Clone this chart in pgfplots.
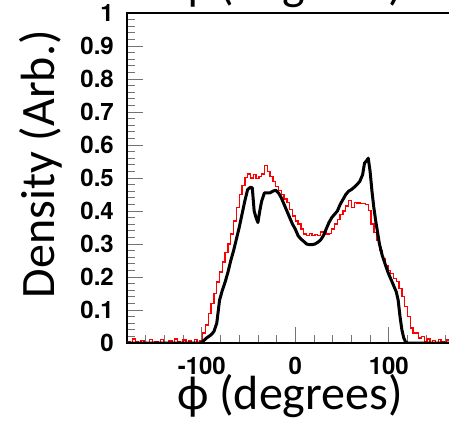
\documentclass[border=0pt]{standalone}
\usepackage{pgfplots}
\pgfplotsset{compat=1.18}
\usepackage{fontspec}
\setmainfont{TeX Gyre Heros}
\newfontfamily\calibri{Carlito}

\pgfplotstableread{
x y
-180 0.005
-177 0.000
-174 0.012
-171 0.003
-168 0.000
-165 0.008
-162 0.002
-159 0.000
-156 0.011
-153 0.000
-150 0.004
-147 0.000
-144 0.010
-141 0.002
-138 0.000
-135 0.006
-132 0.000
-129 0.012
-126 0.003
-123 0.000
-120 0.009
-117 0.002
-114 0.006
-111 0.000
-108 0.010
-105 0.002
-102 0.008
-99 0.030
-96 0.055
-93 0.090
-90 0.120
-87 0.150
-84 0.185
-81 0.215
-78 0.245
-75 0.275
-72 0.300
-69 0.330
-66 0.370
-63 0.410
-60 0.450
-57 0.478
-54 0.502
-51 0.512
-48 0.500
-45 0.510
-42 0.498
-39 0.505
-36 0.512
-33 0.538
-30 0.520
-27 0.505
-24 0.490
-21 0.475
-18 0.462
-15 0.450
-12 0.436
-9 0.425
-6 0.405
-3 0.385
0 0.370
3 0.360
6 0.345
9 0.330
12 0.325
15 0.332
18 0.325
21 0.328
24 0.325
27 0.336
30 0.338
33 0.330
36 0.332
39 0.346
42 0.360
45 0.375
48 0.390
51 0.400
54 0.415
57 0.432
60 0.410
63 0.426
66 0.424
69 0.423
72 0.422
75 0.420
78 0.402
81 0.360
84 0.335
87 0.310
90 0.280
93 0.255
96 0.235
99 0.220
102 0.210
105 0.196
108 0.186
111 0.166
114 0.140
117 0.110
120 0.080
123 0.045
126 0.030
129 0.030
132 0.015
135 0.020
138 0.005
141 0.012
144 0.002
147 0.008
150 0.000
153 0.010
156 0.003
159 0.000
162 0.009
165 0.002
168 0.011
171 0.000
174 0.006
177 0.010
180 0.010
}\redtable

\pgfplotstableread{
x y
-180 0
-101 0
-100 0.002
-95 0.015
-90 0.025
-87 0.035
-84 0.060
-81 0.130
-78 0.160
-75 0.185
-72 0.215
-69 0.250
-66 0.280
-63 0.315
-60 0.350
-57 0.390
-54 0.430
-51 0.465
-48 0.472
-46 0.470
-44 0.400
-42 0.380
-40 0.365
-38 0.400
-36 0.430
-33 0.455
-30 0.455
-27 0.455
-24 0.460
-21 0.463
-18 0.455
-15 0.440
-12 0.420
-9 0.400
-6 0.380
-3 0.360
0 0.345
3 0.325
6 0.315
9 0.308
12 0.300
15 0.298
18 0.298
21 0.300
24 0.305
27 0.312
30 0.325
33 0.345
36 0.365
39 0.380
42 0.390
45 0.400
48 0.420
51 0.435
54 0.450
57 0.460
60 0.465
63 0.472
66 0.480
69 0.490
72 0.510
74 0.545
77 0.555
78 0.560
80 0.520
82 0.460
84 0.410
86 0.370
88 0.335
90 0.300
93 0.265
96 0.240
99 0.215
102 0.195
105 0.175
108 0.155
110 0.130
112 0.080
114 0.040
116 0.015
118 0.003
120 0
180 0
}\blacktable

\begin{document}
\begin{tikzpicture}[x=1pt,y=1pt]
\useasboundingbox (0,0) rectangle (449,425);
\clip (0,0) rectangle (449,425);
\begin{axis}[
  at={(127pt,82pt)}, anchor=south west,
  scale only axis, width=336.6pt, height=330pt,
  xmin=-180, xmax=180, ymin=0, ymax=1,
  axis line style={line width=1.5pt, black},
  xtick={-100,0,100},
  ytick={0,0.1,0.2,0.3,0.4,0.5,0.6,0.7,0.8,0.9,1},
  yticklabels={0,0.1,0.2,0.3,0.4,0.5,0.6,0.7,0.8,0.9,1},
  minor xtick={-180,-160,...,180},
  minor ytick={0,0.02,...,1},
  tick align=inside, xtick pos=bottom, ytick pos=left,
  major tick length=16pt, minor tick length=8pt,
  every tick/.style={black!55, line width=0.8pt},
  /pgf/number format/assume math mode=true,
  ticklabel style={font=\fontsize{24}{24}\selectfont\bfseries},
  xticklabel style={anchor=north, inner sep=0pt, yshift=-14pt},
  yticklabel style={anchor=east, inner sep=0pt, xshift=-13pt},
  xlabel={ϕ (degrees)},
  xlabel style={at={(axis description cs:0.484,-0.203)}, anchor=base, inner sep=0pt, font=\fontsize{48}{48}\selectfont\calibri},
  ylabel={Density (Arb.)},
  ylabel style={at={(axis description cs:-0.214,0.542)}, anchor=base, inner sep=0pt, font=\fontsize{48}{48}\selectfont\calibri},
  title={ϕ (degrees)},
  title style={at={(axis description cs:0.484,1.024)}, anchor=base, inner sep=0pt, font=\fontsize{48}{48}\selectfont\calibri},
]
\addplot[red, line width=1.4pt, const plot, line join=miter] table[x=x,y=y] {\redtable};
\addplot[black, line width=3pt, line join=round] table[x=x,y=y] {\blacktable};
\end{axis}
\end{tikzpicture}
\end{document}
